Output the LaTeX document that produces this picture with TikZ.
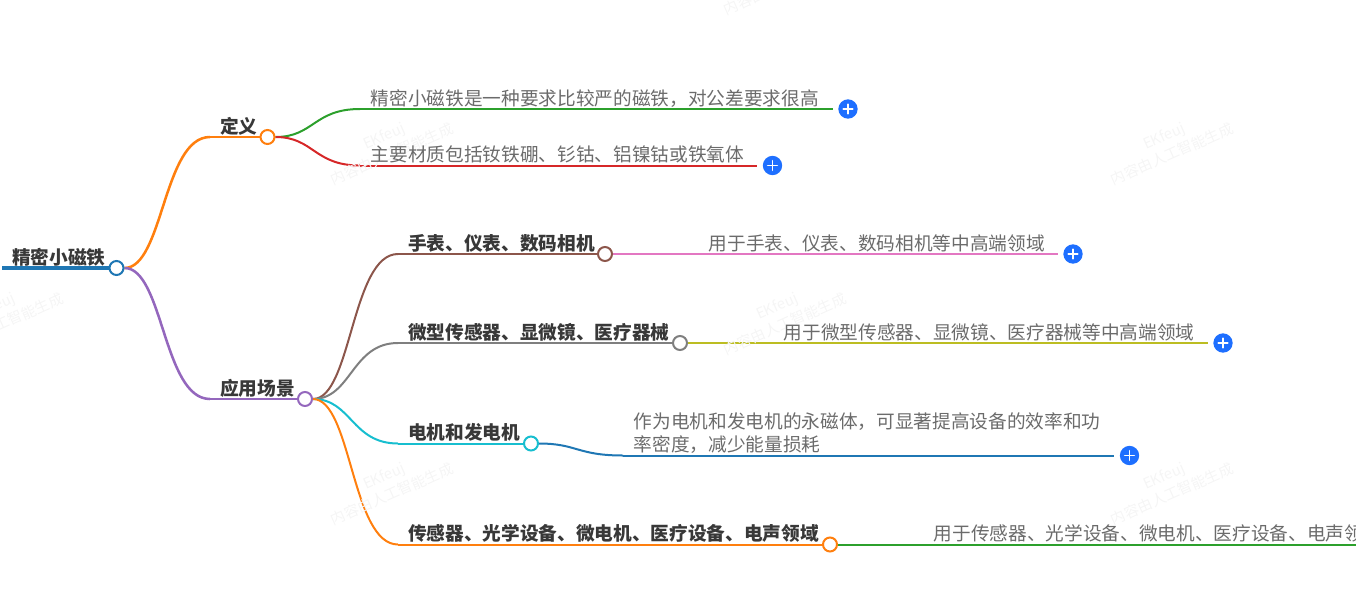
\documentclass[tikz,border=0pt]{standalone}
\usepackage{fontspec}
\setmainfont{Noto Sans CJK SC}
\usetikzlibrary{calc,backgrounds}

\tikzset{
  link/.style={to path={let \p1=(\tikztostart),\p2=(\tikztotarget),\n1={.5*(\x1+\x2)} in
                        .. controls (\n1,\y1) and (\n1,\y2) .. (\p2)}},
  topic/.style={anchor=base west,inner sep=0pt,font=\fontsize{14}{17}\selectfont\bfseries,text=black!78},
  leaf/.style={anchor=base west,inner sep=0pt,font=\fontsize{14}{17}\selectfont,text=black!58,align=left},
  dot/.style={circle,draw=#1,fill=white,line width=1.5pt,minimum size=10.5pt,inner sep=0pt},
  plus/.style={circle,fill=plusblue,minimum size=14.5pt,inner sep=0pt,
               path picture={\draw[white,line width=1.1pt] (-3.6pt,0pt) -- (3.6pt,0pt) (0pt,-3.6pt) -- (0pt,3.6pt);}},
  wmark/.style={rotate=24,align=center,inner sep=0pt,text=black!4,font=\fontsize{11}{15}\selectfont}
}
\definecolor{c0}{HTML}{1F77B4}
\definecolor{c1}{HTML}{FF7F0E}
\definecolor{c2}{HTML}{2CA02C}
\definecolor{c3}{HTML}{D62728}
\definecolor{c4}{HTML}{9467BD}
\definecolor{c5}{HTML}{8C564B}
\definecolor{c6}{HTML}{E377C2}
\definecolor{c7}{HTML}{7F7F7F}
\definecolor{c8}{HTML}{BCBD22}
\definecolor{c9}{HTML}{17BECF}
\definecolor{plusblue}{HTML}{1E6FFF}

\begin{document}
\begin{tikzpicture}[x=.75pt,y=-.75pt,line cap=round]
  \useasboundingbox (0,0) rectangle (1356,593);
  \clip (0,0) rectangle (1356,593);

  \node[wmark] (w1) at (388,145)  {EKfeuj\\内容由人工智能生成};
  \node[wmark] (w2) at (1168,145) {EKfeuj\\内容由人工智能生成};
  \node[wmark] (w3) at (781,315)  {EKfeuj\\内容由人工智能生成};
  \node[wmark] (w4) at (-2,315)   {EKfeuj\\内容由人工智能生成};
  \node[wmark] (w5) at (388,485)  {EKfeuj\\内容由人工智能生成};
  \node[wmark] (w6) at (1168,485) {EKfeuj\\内容由人工智能生成};
  \node[wmark] (w7) at (781,-25)  {EKfeuj\\内容由人工智能生成};

  \node[dot=c0] (root)  at (116.5,268) {};
  \node[dot=c1] (def)   at (267.5,137) {};
  \node[dot=c4] (app)   at (305,399) {};
  \node[dot=c5] (watch) at (605,254) {};
  \node[dot=c7] (micro) at (680,343) {};
  \node[dot=c9] (motor) at (531,443.5) {};
  \node[dot=c1] (sens)  at (830,544.5) {};

  \node[plus] (pdefA)   at (848,109) {};
  \node[plus] (pdefB)   at (772.5,165.5) {};
  \node[plus] (pwatch)  at (1073,254) {};
  \node[plus] (pmicro)  at (1223,343) {};
  \node[plus] (pmotor)  at (1129.5,455.5) {};

  \coordinate (rootS) at (2,268);
  \coordinate (defE)  at (210,137);
  \coordinate (appE)  at (210,399);
  \coordinate (defAE) at (360,109);
  \coordinate (defBE) at (360,165.5);
  \coordinate (watE)  at (398,254);
  \coordinate (micE)  at (398,343);
  \coordinate (motE)  at (398,443.5);
  \coordinate (senE)  at (398,544.5);
  \coordinate (watL)  at (698,254);
  \coordinate (micL)  at (773,343);
  \coordinate (motL)  at (623,455.5);
  \coordinate (senL)  at (923,544.5);
  \coordinate (senR)  at (1358,544.5);

  \node[topic] (troot)  at (12,264)  {精密小磁铁};
  \node[topic] (tdef)   at (220,133) {定义};
  \node[topic] (tapp)   at (220,395) {应用场景};
  \node[topic] (twatch) at (408,250) {手表、仪表、数码相机};
  \node[topic] (tmicro) at (408,339) {微型传感器、显微镜、医疗器械};
  \node[topic] (tmotor) at (408,439) {电机和发电机};
  \node[topic] (tsens)  at (408,540) {传感器、光学设备、微电机、医疗设备、电声领域};

  \node[leaf] (ldefA)  at (370.5,105.5) {精密小磁铁是一种要求比较严的磁铁，对公差要求很高};
  \node[leaf] (ldefB)  at (370.5,161.5) {主要材质包括钕铁硼、钐钴、铝镍钴或铁氧体};
  \node[leaf] (lwatch) at (708.5,250.5) {用于手表、仪表、数码相机等中高端领域};
  \node[leaf] (lmicro) at (783.5,339.5) {用于微型传感器、显微镜、医疗器械等中高端领域};
  \node[leaf] (lmotor) at (633.5,451)   {作为电机和发电机的永磁体，可显著提高设备的效率和功\\率密度，减少能量损耗};
  \node[leaf] (lsens)  at (933.5,540.5) {用于传感器、光学设备、微电机、医疗设备、电声领域};

  \begin{pgfonlayer}{background}
    \path[line width=1.9pt] (root) edge [c1,link] (defE)
                             (defE) edge [c1]     (def)
                             (root) edge [c4,link] (appE)
                             (appE) edge [c4]     (app);
    \path[line width=3pt]    (rootS) edge [c0]    (root);
    \path[line width=1.5pt,shorten >=4pt]
          (defAE) edge [c2] (pdefA)
          (defBE) edge [c3] (pdefB)
          (watL)  edge [c6] (pwatch)
          (micL)  edge [c8] (pmicro)
          (motL)  edge [c0] (pmotor);
    \path[line width=1.5pt]
          (def)   edge [c2,link] (defAE)
          (def)   edge [c3,link] (defBE)
          (app)   edge [c5,link] (watE)
          (watE)  edge [c5]      (watch)
          (app)   edge [c7,link] (micE)
          (micE)  edge [c7]      (micro)
          (app)   edge [c9,link] (motE)
          (motE)  edge [c9]      (motor)
          (app)   edge [c1,link] (senE)
          (senE)  edge [c1]      (sens)
          (watch) edge [c6]      (watL)
          (micro) edge [c8]      (micL)
          (motor) edge [c0,link] (motL)
          (sens)  edge [c2]      (senL)
          (senL)  edge [c2]      (senR);
  \end{pgfonlayer}
\end{tikzpicture}
\end{document}
